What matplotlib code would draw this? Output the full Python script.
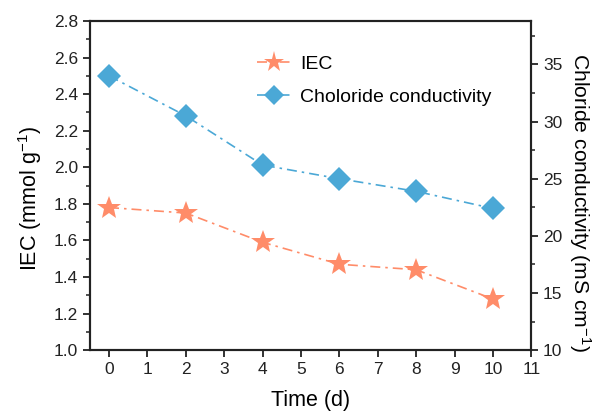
import matplotlib
matplotlib.use("Agg")
import matplotlib.pyplot as plt
from matplotlib.ticker import MultipleLocator, FormatStrFormatter

plt.rcParams['font.family'] = ['Liberation Sans', 'DejaVu Sans']
plt.rcParams['mathtext.fontset'] = 'custom'
plt.rcParams['mathtext.rm'] = 'Liberation Sans'
plt.rcParams['mathtext.it'] = 'Liberation Sans'

time_d = [0, 2, 4, 6, 8, 10]
iec = [1.78, 1.75, 1.59, 1.47, 1.44, 1.28]
conductivity = [34.0, 30.5, 26.2, 25.0, 23.9, 22.4]

c_iec = '#FF8C69'
c_cond = '#4BA8D6'

fig = plt.figure(figsize=(5.99, 4.12), dpi=100)
ax = fig.add_axes([0.150, 0.150, 0.737, 0.799])
ax2 = ax.twinx()

l1, = ax.plot(time_d, iec, linestyle=(0, (6, 3, 1.5, 3)), color=c_iec, lw=1.2, marker='*', ms=18,
              markeredgewidth=0, label='IEC')
l2, = ax2.plot(time_d, conductivity, linestyle=(0, (6, 3, 1.5, 3)), color=c_cond, lw=1.2, marker='D', ms=12.5,
               markeredgewidth=0, label='Choloride conductivity')

ax.set_xlim(-0.5, 11)
ax.set_ylim(1.0, 2.8)
ax2.set_ylim(10, 38.8)

ax.xaxis.set_major_locator(MultipleLocator(1))
ax.yaxis.set_major_locator(MultipleLocator(0.2))
ax.yaxis.set_minor_locator(MultipleLocator(0.1))
ax2.yaxis.set_major_locator(MultipleLocator(5))
ax2.yaxis.set_minor_locator(MultipleLocator(2.5))
ax.yaxis.set_major_formatter(FormatStrFormatter('%.1f'))

for a in (ax, ax2):
    for s in a.spines.values():
        s.set_linewidth(1.5)
        s.set_color('#222222')
ax.tick_params(axis='both', which='major', direction='out', length=5, width=1.3, labelsize=12.5, colors='#222222')
ax.tick_params(axis='y', which='minor', direction='out', length=3, width=1.1, colors='#222222')
ax2.tick_params(axis='y', which='major', direction='out', length=5, width=1.3, labelsize=12.5, colors='#222222')
ax2.tick_params(axis='y', which='minor', direction='out', length=3, width=1.1, colors='#222222')

ax.set_xlabel('Time (d)', fontsize=15.5, labelpad=9)
ax.set_ylabel('IEC (mmol g$^{-1}$)', fontsize=15.5)
ax2.set_ylabel('Chloride conductivity (mS cm$^{-1}$)', fontsize=15.2, rotation=270)
ax.yaxis.set_label_coords(-0.104, 0.46)
ax2.yaxis.set_label_coords(1.14, 0.45)

ax.legend(handles=[l1, l2], loc='upper left', bbox_to_anchor=(257 / 599, 1 - 55 / 412),
          bbox_transform=fig.transFigure, borderaxespad=0, borderpad=0, frameon=False,
          fontsize=14, handlelength=1.7, handletextpad=0.5, labelspacing=0.8, markerscale=0.85)

fig.savefig('out.png', dpi=100)
